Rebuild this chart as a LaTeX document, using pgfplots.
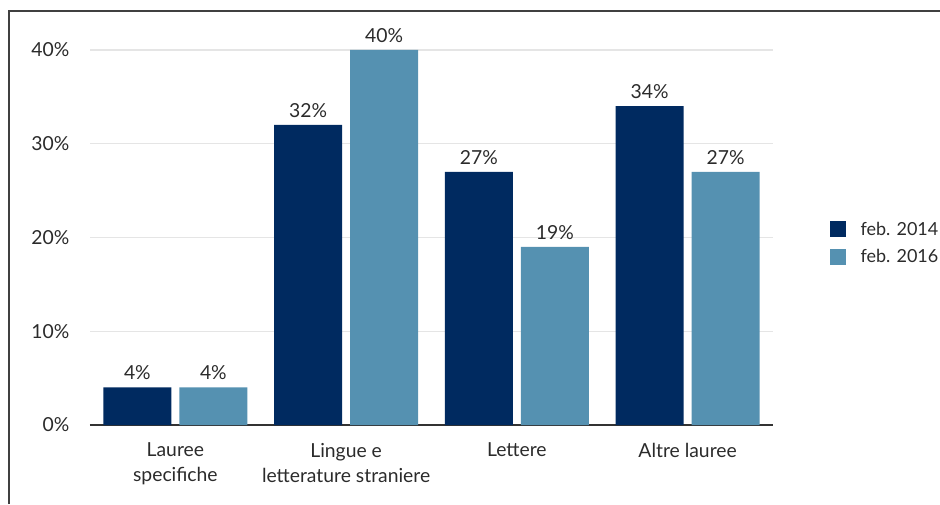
\documentclass[border=0pt]{standalone}
\usepackage{pgfplots}
\pgfplotsset{compat=1.18}
\usepackage{fontspec}
\setmainfont{Lato}
\definecolor{darkbar}{HTML}{002A60}
\definecolor{lightbar}{HTML}{5591B1}
\definecolor{txt}{HTML}{2B2B2B}
\newcommand{\lbl}{\fontsize{14.5}{18.75}\selectfont\color{txt}}
\newcommand{\leg}{\fontsize{13.5}{16}\selectfont\color{txt}}

\begin{document}
\begin{tikzpicture}[x=1pt,y=1pt]
% page is 940x504 px at 0.75pt per px
\useasboundingbox (0,0) rectangle (705,378);
\draw[black!75, line width=0.9pt] (6.75,0) -- (6.75,369.75) -- (705,369.75);
\begin{axis}[
  at={(67.5pt,59.25pt)}, anchor=south west,
  scale only axis, width=512.25pt, height=281.25pt,
  ybar=6pt, bar width=51pt,
  xmin=-0.5, xmax=3.5, ymin=0, ymax=40,
  xtick=data,
  xticklabels={{Lauree\\specifiche},{Lingue e\\letterature straniere},Lettere,{Altre lauree}},
  x tick label style={align=center, font=\lbl, yshift=-10pt},
  ytick={0,10,20,30,40},
  yticklabel={\pgfmathprintnumber{\tick}\%},
  y tick label style={font=\lbl, xshift=-12pt},
  /pgf/number format/assume math mode=true,
  major tick length=0pt,
  axis x line=bottom, axis y line=left,
  x axis line style={-, draw=black!80, line width=1.1pt},
  y axis line style={draw=none},
  ymajorgrids, grid style={black!10, line width=0.8pt},
  clip=false,
  nodes near coords={\pgfmathprintnumber{\pgfplotspointmeta}\%},
  nodes near coords style={font=\lbl, yshift=2pt},
  legend style={at={(1.083,0.485)}, anchor=west, draw=none, fill=none,
    font=\leg, row sep=5pt, inner sep=0pt,
    /tikz/every odd column/.append style={column sep=9pt}},
  legend cell align=left,
  legend image code/.code={\fill[#1] (0pt,-6pt) rectangle (12pt,6pt);},
]
\addplot[fill=darkbar, draw=none] coordinates {(0,4) (1,32) (2,27) (3,34)};
\addplot[fill=lightbar, draw=none] coordinates {(0,4) (1,40) (2,19) (3,27)};
\legend{feb. 2014, feb. 2016}
\end{axis}
\end{tikzpicture}
\end{document}
